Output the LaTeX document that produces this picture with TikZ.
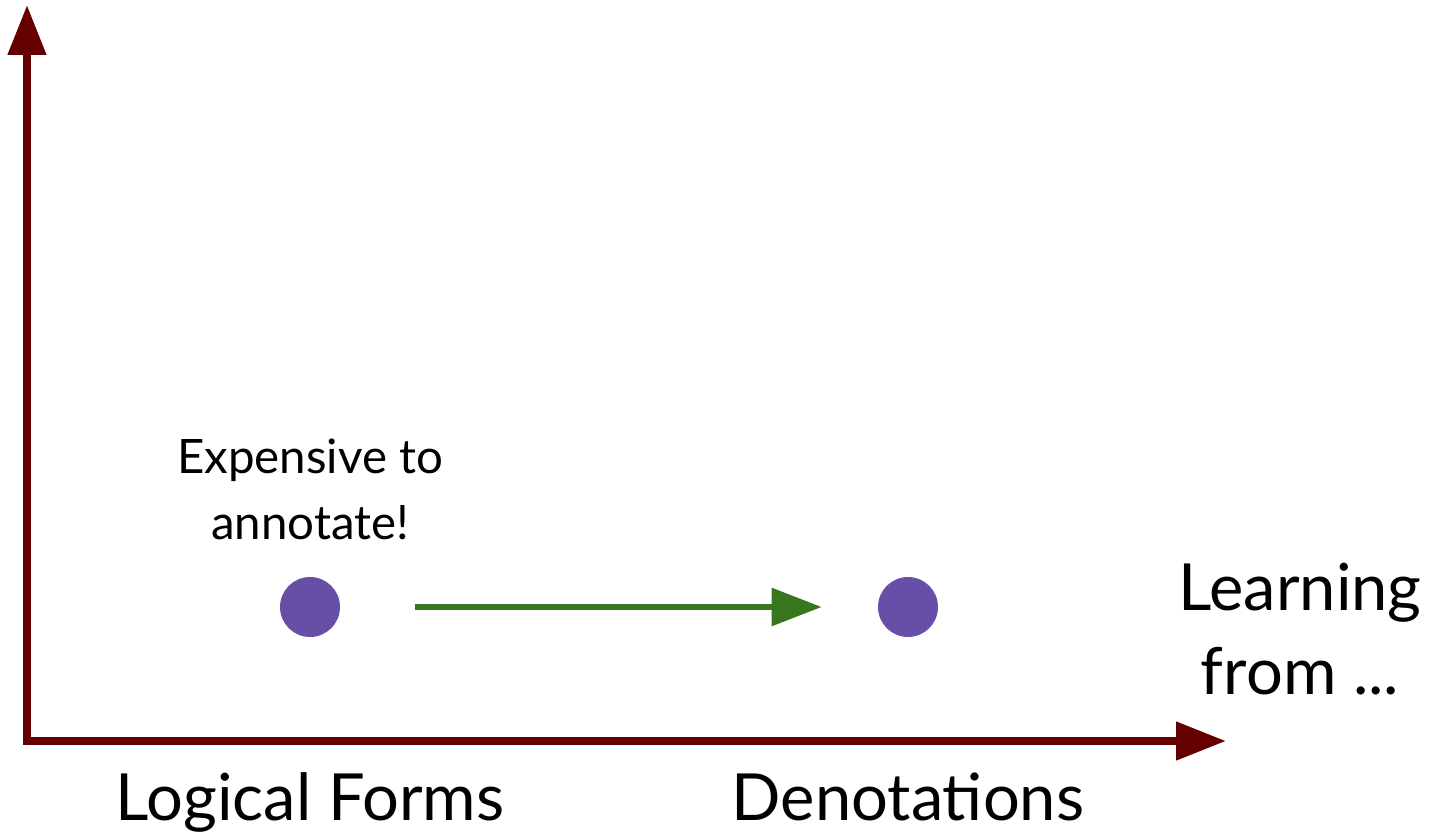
\documentclass[tikz,border=0pt]{standalone}
\usepackage{fontspec}
\setmainfont{Lato}
\usetikzlibrary{arrows.meta,positioning}
\definecolor{axisred}{HTML}{660000}
\definecolor{dotpurple}{HTML}{674EA7}
\definecolor{stepgreen}{HTML}{38761D}

\begin{document}
\begin{tikzpicture}[
			x=0.02cm, y=-0.02cm,
			axis/.style={draw=axisred,line width=4.5pt,line join=miter,{Triangle[length=1cm,width=0.74cm]}-{Triangle[length=1cm,width=0.74cm]}},
			dot/.style={circle,fill=dotpurple,minimum size=1.2cm,inner sep=0pt},
			stepline/.style={draw=stepgreen,line width=3.4pt,-{Triangle[length=1cm,width=0.74cm]}},
			small/.style={font=\fontsize{27}{37.5}\selectfont,align=center},
			big/.style={font=\fontsize{37}{47.6}\selectfont,align=center}
			]
			\useasboundingbox (0,0) rectangle (1439,832);
			% axes
			\coordinate (ytop) at (27,5);
			\coordinate (xend) at (1226,741);
			\draw[axis] (ytop) |- (xend);
			% the two points
			\node[dot] (lf) at (310,607) {};
			\node[dot] (dn) at (908,607) {};
			\path (lf) edge[stepline,shorten <=1.5cm,shorten >=1.12cm] (dn);
			% labels
			\node[small] (cost) at (310,489) {Expensive to\\annotate!};
			\node[big] (learn) at (1300,629) {Learning\\from ...};
			\node[big,anchor=base] (lflabel) at (310,820) {Logical Forms};
			\node[big,anchor=base] (dnlabel) at (908,820) {Denotations};
		\end{tikzpicture}
\end{document}
